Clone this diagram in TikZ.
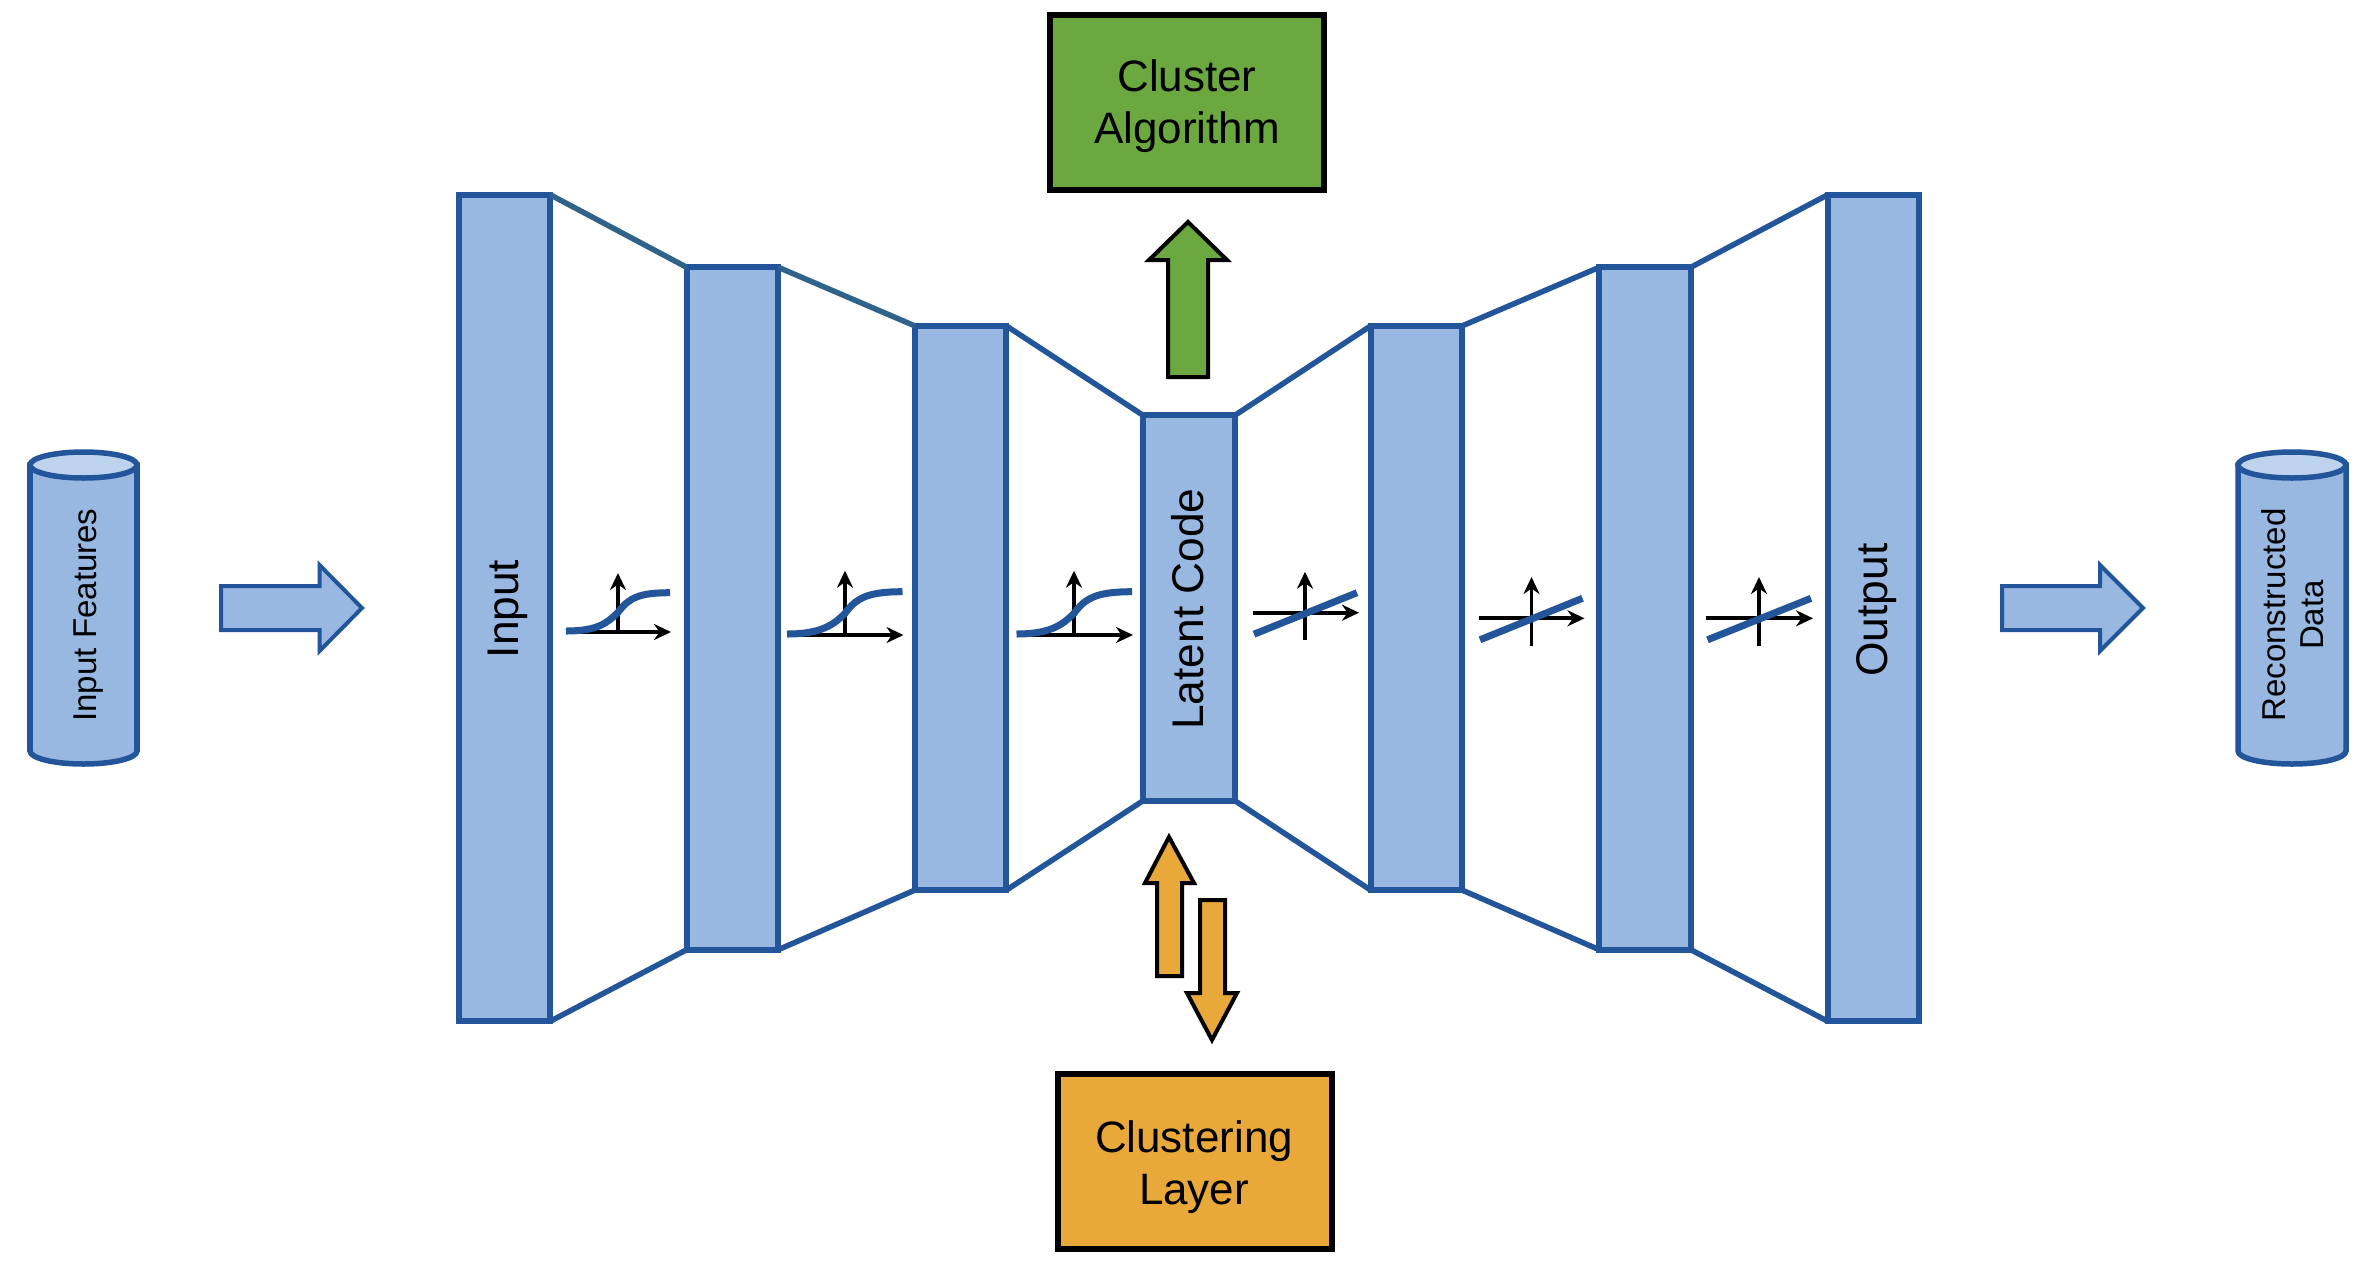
\documentclass[tikz,border=0pt]{standalone}
\usepackage{fontspec}
\setmainfont{Liberation Sans}
\usetikzlibrary{arrows.meta}
\definecolor{bluestroke}{HTML}{23559B}
\definecolor{bluefill}{HTML}{98B8E1}
\definecolor{bluetop}{HTML}{BDD3EE}
\definecolor{tealline}{HTML}{2F6389}
\definecolor{greenfill}{HTML}{6BA83F}
\definecolor{orangefill}{HTML}{E9A93A}
\tikzset{
  layerbar/.style={draw=bluestroke,fill=bluefill,line width=0.06cm,inner sep=0pt,outer sep=0pt,minimum width=0.915cm},
  layertext/.style={rotate=90,font=\fontsize{12.6}{14.5}\selectfont,text=black},
  funnel/.style={draw=bluestroke,line width=0.055cm},
  funnelteal/.style={draw=tealline,line width=0.055cm},
  blockbox/.style={draw=black,line width=0.06cm,inner sep=0pt,outer sep=0pt,align=center,text=black,font=\fontsize{12.5}{14.5}\selectfont},
  cyl/.style={draw=bluestroke,fill=bluefill,line width=0.055cm},
  cyltop/.style={draw=bluestroke,fill=bluetop,line width=0.055cm},
  cyltext/.style={rotate=90,align=center,text=black,font=\fontsize{9.4}{10.8}\selectfont},
  flowarrow/.style={draw=bluestroke,fill=bluefill,line width=0.04cm},
  greenarrow/.style={draw=black,fill=greenfill,line width=0.04cm},
  orangearrow/.style={draw=black,fill=orangefill,line width=0.04cm},
  axis/.style={draw=black,line width=0.037cm,-{Stealth[length=0.17cm,width=0.16cm]}},
  activation/.style={draw=bluestroke,line width=0.07cm},
}
% #1 id, #2 left, #3 axis x, #4 right, #5 axis y, #6 top, #7 curve end y
\newcommand{\sigmoidicon}[7]{%
  \coordinate (#1-l) at (#2,#5);
  \coordinate (#1-r) at (#4,#5);
  \coordinate (#1-o) at (#3,#5);
  \coordinate (#1-t) at (#3,#6);
  \coordinate (#1-a) at (#2,#5-1);
  \coordinate (#1-m) at (#3,{(#5+#7)/2});
  \coordinate (#1-b) at (#4-1,#7);
  \draw[axis] (#1-o) -- (#1-t);
  \draw[axis] (#1-l) -- (#1-r);
  \draw[activation] (#1-a) .. controls ({#2+0.6*(#3-#2)},#5-1) and (#3-11,{(#5+#7)/2+11}) .. (#1-m)
     .. controls (#3+11,{(#5+#7)/2-15}) and (#3+22,#7) .. (#1-b);
}
% #1 id, #2 left, #3 axis x, #4 right, #5 axis y, #6 top, #7 bottom
\newcommand{\linearicon}[7]{%
  \coordinate (#1-l) at (#2,#5);
  \coordinate (#1-r) at (#4,#5);
  \coordinate (#1-t) at (#3,#6);
  \coordinate (#1-b) at (#3,#7);
  \coordinate (#1-a) at (#2+1.5,#5+21.5);
  \coordinate (#1-c) at (#4-2,#5-20);
  \draw[axis] (#1-b) -- (#1-t);
  \draw[axis] (#1-l) -- (#1-r);
  \draw[activation] (#1-a) -- (#1-c);
}
\begin{document}
\begin{tikzpicture}[x=0.01cm,y=-0.01cm]
\useasboundingbox (0,0) rectangle (2374,1266);
\fill[white] (0,0) rectangle (2374,1266);

% layers
\node[layerbar,minimum height=8.26cm] (inp) at (504.5,608) {};
\node[layerbar,minimum height=6.82cm] (enc1) at (732.5,608.5) {};
\node[layerbar,minimum height=5.64cm] (enc2) at (960.5,608) {};
\node[layerbar,minimum height=3.85cm] (lat) at (1189,608) {};
\node[layerbar,minimum height=5.64cm] (dec2) at (1416.5,608) {};
\node[layerbar,minimum height=6.82cm] (dec1) at (1645,608.5) {};
\node[layerbar,minimum height=8.26cm] (out) at (1873.5,608) {};

\node[layertext] (inptext) at (507.5,609) {Input};
\node[layertext] (lattext) at (1188,609) {Latent Code};
\node[layertext] (outtext) at (1876.5,610) {Output};

% funnel lines
\draw[funnelteal] (inp.north east) -- (enc1.north west);
\draw[funnelteal] (enc1.north east) -- (enc2.north west);
\draw[funnel] (enc2.north east) -- (lat.north west);
\draw[funnel] (lat.north east) -- (dec2.north west);
\draw[funnel] (dec2.north east) -- (dec1.north west);
\draw[funnel] (dec1.north east) -- (out.north west);
\draw[funnel] (inp.south east) -- (enc1.south west);
\draw[funnel] (enc1.south east) -- (enc2.south west);
\draw[funnel] (enc2.south east) -- (lat.south west);
\draw[funnel] (lat.south east) -- (dec2.south west);
\draw[funnel] (dec2.south east) -- (dec1.south west);
\draw[funnel] (dec1.south east) -- (out.south west);

% activation icons
\sigmoidicon{sa}{566}{618}{671}{632}{573}{592.7}
\sigmoidicon{sb}{787}{845}{903.5}{635}{570.7}{591.7}
\sigmoidicon{sc}{1016.5}{1074}{1133}{635}{570.7}{591.7}
\linearicon{la}{1252.5}{1305}{1359}{612.7}{571.7}{640}
\linearicon{lb}{1478.5}{1531.5}{1584.5}{618.3}{577}{645.7}
\linearicon{lc}{1706}{1759}{1813}{618.3}{577}{645.7}

% cylinders
\draw[cyl] (30,465) -- (30,751) arc[start angle=180,end angle=0,x radius=53.5,y radius=13] -- (137,465) -- cycle;
\draw[cyltop] (83.5,465) ellipse[x radius=53.5,y radius=13];
\node[cyltext] (infeat) at (88.5,615) {Input Features};
\draw[cyl] (2238,465) -- (2238,751) arc[start angle=180,end angle=0,x radius=54,y radius=13] -- (2346,465) -- cycle;
\draw[cyltop] (2292,465) ellipse[x radius=54,y radius=13];
\node[cyltext] (recon) at (2293,615) {Reconstructed\\Data};

% flow arrows
\draw[flowarrow] (221,586) -- (319.5,586) -- (319.5,565) -- (362,608) -- (319.5,651) -- (319.5,630) -- (221,630) -- cycle;
\draw[flowarrow] (2002,586) -- (2100,586) -- (2100,565) -- (2143,608) -- (2100,651) -- (2100,630) -- (2002,630) -- cycle;

% top
\node[blockbox,fill=greenfill,minimum width=2.743cm,minimum height=1.753cm] (algo) at (1187,102.5) {};
\node[align=center,text=black,font=\fontsize{12.5}{14.8}\selectfont] (algotext) at (1187,106.5) {Cluster\\Algorithm};
\draw[greenarrow] (1168,377) -- (1208,377) -- (1208,260) -- (1227,260) -- (1188,222) -- (1149,260) -- (1168,260) -- cycle;

% bottom
\node[blockbox,fill=orangefill,minimum width=2.74cm,minimum height=1.75cm] (clay) at (1195,1161.5) {};
\node[align=center,text=black,font=\fontsize{12.5}{14.8}\selectfont] (claytext) at (1194,1167) {Clustering\\Layer};
\draw[orangearrow] (1157,976) -- (1182,976) -- (1182,883) -- (1194,883) -- (1169,837) -- (1145,883) -- (1157,883) -- cycle;
\draw[orangearrow] (1200,900) -- (1225,900) -- (1225,993) -- (1237,993) -- (1212,1040) -- (1187,993) -- (1200,993) -- cycle;
\end{tikzpicture}
\end{document}
